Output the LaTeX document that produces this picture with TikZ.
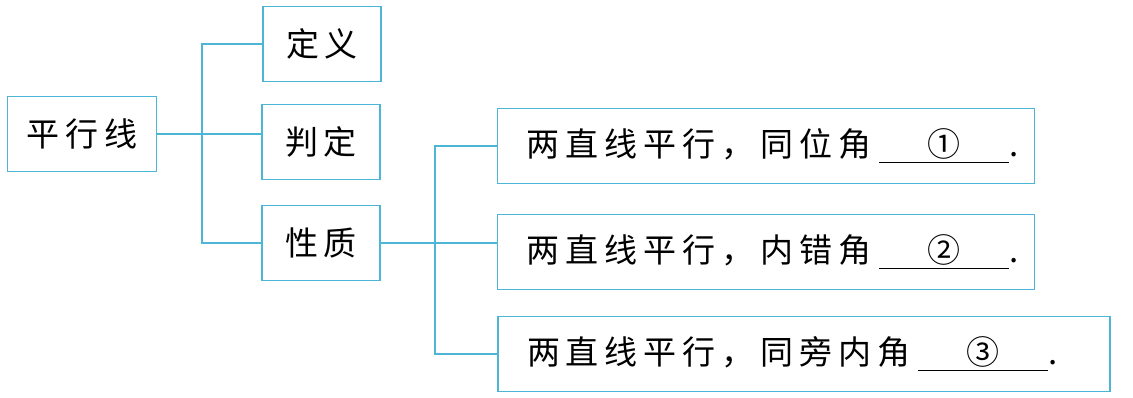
\documentclass[tikz,border=0pt]{standalone}
\usepackage{fontspec}
\setmainfont{Noto Sans CJK SC}[LetterSpace=18]
\usetikzlibrary{positioning}
\definecolor{linecyan}{HTML}{4DB6D6}
\newcommand{\ansblank}[1]{\hspace{4pt}\underline{\makebox[65pt]{#1}}}

\begin{document}
\begin{tikzpicture}[
    x=0.5pt, y=-0.5pt,
    every node/.style={font=\fontsize{16.5}{20}\selectfont},
    box/.style={rectangle, draw=linecyan, line width=0.9pt, minimum height=37.5pt, inner sep=0pt},
    wide/.style={box, inner xsep=14.5pt, align=left},
    link/.style={draw=linecyan, line width=0.9pt}
    ]
    \useasboundingbox (0,0) rectangle (1133,397);
    \node[box, minimum width=74.5pt] (pxx) at (82,134) {平行线};
    \node[box, minimum width=59pt] (dy) at (322,44) {定义};
    \node[box, minimum width=59pt] (pd) at (321,142) {判定};
    \node[box, minimum width=59pt] (xz) at (321,243) {性质};
    \node[wide, text width=239.5pt] (xz1) at (766,146) {\mbox{两直线平行，同位角\ansblank{①}.}};
    \node[wide, text width=239.5pt] (xz2) at (766,252) {\mbox{两直线平行，内错角\ansblank{②}.}};
    \node[wide, text width=277pt] (xz3) at (804,354) {\mbox{两直线平行，同旁内角\ansblank{③}.}};
    \coordinate (fork1) at (202,134);
    \coordinate (fork2) at (435,243);
    \draw[link] (pxx) -- (fork1);
    \draw[link] (fork1) |- (dy);
    \draw[link] (fork1) -- (fork1 -| pd.west);
    \draw[link] (fork1) |- (xz);
    \draw[link] (xz) -- (xz.east -| xz2.west);
    \draw[link] (fork2) |- (xz1);
    \draw[link] (fork2) |- (xz3);
\end{tikzpicture}
\end{document}
